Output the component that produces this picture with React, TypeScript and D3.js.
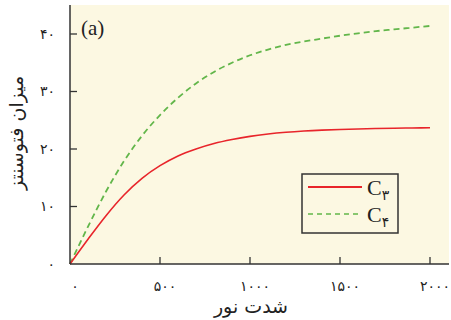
import * as d3 from "d3";

const lightValues = [0, 100, 200, 300, 400, 500, 600, 700, 800, 900, 1000, 1100, 1200, 1300, 1400, 1500, 1600, 1700, 1800, 1900, 2000];
const c3Values = [0, 4.3, 8.4, 12.0, 14.9, 17.1, 18.8, 20.0, 20.95, 21.65, 22.2, 22.6, 22.9, 23.12, 23.28, 23.4, 23.49, 23.56, 23.62, 23.66, 23.7];
const c4Values = [0, 6.5, 12.6, 17.9, 22.3, 25.9, 28.9, 31.4, 33.4, 35.0, 36.3, 37.3, 38.1, 38.7, 39.2, 39.7, 40.1, 40.5, 40.8, 41.1, 41.4];

const xTicks = [0, 500, 1000, 1500, 2000];
const xTickLabels = ["۰", "۵۰۰", "۱۰۰۰", "۱۵۰۰", "۲۰۰۰"];
const yTicks = [0, 10, 20, 30, 40];
const yTickLabels = ["۰", "۱۰", "۲۰", "۳۰", "۴۰"];

const W = 451;
const H = 320;
const m = { top: 5, right: 2, bottom: 56, left: 70 };
const BG = "#fcf8e2";
const AXIS = "#333";
const RED = "#e8252b";
const GREEN = "#62b64a";
const FA = "'DejaVu Sans', sans-serif";
const SERIF = "'Liberation Serif', 'DejaVu Serif', serif";

export default function App() {
  const x = d3.scaleLinear().domain([0, 2000]).range([70, 430]);
  const y = d3.scaleLinear().domain([0, 10]).range([264, 206.5]);
  const bottom = H - m.bottom;

  const pts = (vals: number[]) => lightValues.map((v, i) => [v, vals[i]] as [number, number]);
  const line = d3
    .line<[number, number]>()
    .x((d) => x(d[0]))
    .y((d) => y(d[1]))
    .curve(d3.curveMonotoneX);

  return (
    <svg width={W} height={H} style={{ position: "absolute", left: 0, top: 0 }}>
      <rect x={m.left} y={m.top} width={W - m.left - m.right} height={bottom - m.top} fill={BG} />

      <path d={line(pts(c4Values))!} fill="none" stroke={GREEN} strokeWidth={1.8} strokeDasharray="6 4" />
      <path d={line(pts(c3Values))!} fill="none" stroke={RED} strokeWidth={1.6} />

      {/* axes */}
      <line x1={m.left} x2={m.left} y1={m.top} y2={bottom} stroke={AXIS} strokeWidth={1.5} />
      <line x1={m.left} x2={W - m.right} y1={bottom} y2={bottom} stroke={AXIS} strokeWidth={1.5} />

      {yTicks.map((t, i) => (
        <g key={t}>
          {t > 0 && <line x1={m.left} x2={m.left + 7} y1={y(t)} y2={y(t)} stroke={AXIS} strokeWidth={1.3} />}
          <text x={55} y={y(t)} dy="0.35em" textAnchor="end" fontFamily={FA} fontSize={14} fill="#222">
            {yTickLabels[i]}
          </text>
        </g>
      ))}

      {xTicks.map((t, i) => (
        <g key={t}>
          {t > 0 && <line x1={x(t)} x2={x(t)} y1={bottom} y2={bottom - 7} stroke={AXIS} strokeWidth={1.3} />}
          <text x={x(t) + 5} y={291} textAnchor="middle" fontFamily={FA} fontSize={14} fill="#222">
            {xTickLabels[i]}
          </text>
        </g>
      ))}

      <text x={251} y={313} textAnchor="middle" fontFamily={FA} fontSize={19} fill="#222">
        شدت نور
      </text>
      <text
        transform="translate(23,133) rotate(-90)"
        textAnchor="middle"
        fontFamily={FA}
        fontSize={19}
        fill="#222"
      >
        میزان فتوسنتز
      </text>

      <text x={81} y={35} fontFamily={SERIF} fontSize={21} fill="#222">
        (a)
      </text>

      {/* legend */}
      <rect x={302} y={174} width={96} height={59} fill="none" stroke={AXIS} strokeWidth={1.5} />
      <line x1={308} x2={362} y1={187} y2={187} stroke={RED} strokeWidth={1.8} />
      <line x1={308} x2={360} y1={214} y2={214} stroke={GREEN} strokeWidth={1.5} strokeDasharray="5 4" />
      <text x={367} y={195} fontFamily={SERIF} fontSize={22} fill="#222">
        C<tspan fontFamily={FA} fontSize={14} dy={5}>۳</tspan>
      </text>
      <text x={367} y={222} fontFamily={SERIF} fontSize={22} fill="#222">
        C<tspan fontFamily={FA} fontSize={14} dy={5}>۴</tspan>
      </text>
    </svg>
  );
}
